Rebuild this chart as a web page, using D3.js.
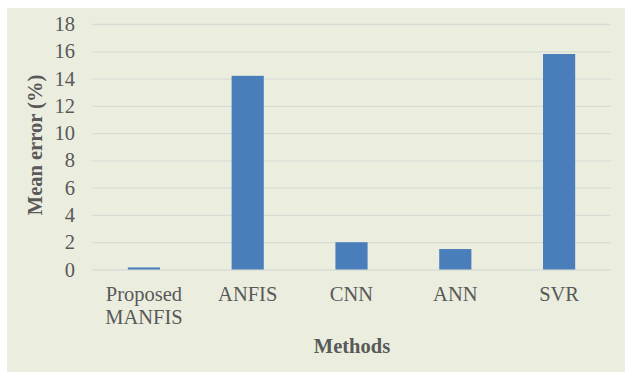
<!DOCTYPE html>
<html>
<head>
<meta charset="utf-8">
<script src="https://cdn.jsdelivr.net/npm/d3@7"></script>
<style>
  html, body { margin: 0; padding: 0; background: #ffffff; }
  svg { display: block; }
</style>
</head>
<body>
<script>
// Mean error of each forecasting method
const methods = ["Proposed\nMANFIS", "ANFIS", "CNN", "ANN", "SVR"];
const meanError = [0.15, 14.2, 2.0, 1.5, 15.8];
const yTicks = [0, 2, 4, 6, 8, 10, 12, 14, 16, 18];

const W = 625, H = 374;
const margin = { left: 92, right: 14, top: 24, bottom: 104.5 };

const svg = d3.select("body").append("svg")
  .attr("width", W).attr("height", H);

// chart-area background
svg.append("rect")
  .attr("x", 7).attr("y", 8)
  .attr("width", W - 7).attr("height", H - 10)
  .attr("fill", "#ebeedf");

const x = d3.scaleBand()
  .domain(methods)
  .range([margin.left, W - margin.right])
  .paddingInner(0.69).paddingOuter(0.345);

const y = d3.scaleLinear()
  .domain([0, 18])
  .range([H - margin.bottom, margin.top]);

const font = "'Liberation Serif', 'Times New Roman', serif";

// horizontal gridlines + tick labels
const yAxis = d3.axisLeft(y)
  .tickValues(yTicks)
  .tickSize(-(W - margin.right - margin.left))
  .tickPadding(17);

const gy = svg.append("g")
  .attr("transform", `translate(${margin.left},0)`)
  .call(yAxis);
gy.select(".domain").remove();
gy.selectAll(".tick line")
  .attr("stroke", "#d9dcd4").attr("stroke-width", 1.3);
gy.selectAll(".tick text")
  .attr("fill", "#595959")
  .style("font-family", font)
  .style("font-size", "20.5px");

// bars
svg.append("g").selectAll("rect")
  .data(methods)
  .join("rect")
  .attr("x", d => x(d))
  .attr("width", x.bandwidth())
  .attr("y", (d, i) => y(meanError[i]))
  .attr("height", (d, i) => y(0) - y(meanError[i]))
  .attr("fill", "#4a7ebb");

// category labels (multi-line)
const cat = svg.append("g").selectAll("text")
  .data(methods)
  .join("text")
  .attr("text-anchor", "middle")
  .attr("fill", "#595959")
  .style("font-family", font)
  .style("font-size", "20.5px")
  .attr("transform", d => `translate(${x(d) + x.bandwidth() / 2},301)`);
cat.selectAll("tspan")
  .data(d => d.split("\n"))
  .join("tspan")
  .attr("x", 0)
  .attr("dy", (d, i) => i === 0 ? 0 : 23)
  .text(d => d);

// axis titles
svg.append("text")
  .attr("x", 352).attr("y", 353)
  .attr("text-anchor", "middle")
  .attr("fill", "#595959")
  .style("font-family", font)
  .style("font-size", "20.5px")
  .style("font-weight", "bold")
  .text("Methods");

svg.append("text")
  .attr("transform", "translate(42,145) rotate(-90)")
  .attr("text-anchor", "middle")
  .attr("fill", "#595959")
  .style("font-family", font)
  .style("font-size", "20.5px")
  .style("font-weight", "bold")
  .text("Mean error (%)");
</script>
</body>
</html>
